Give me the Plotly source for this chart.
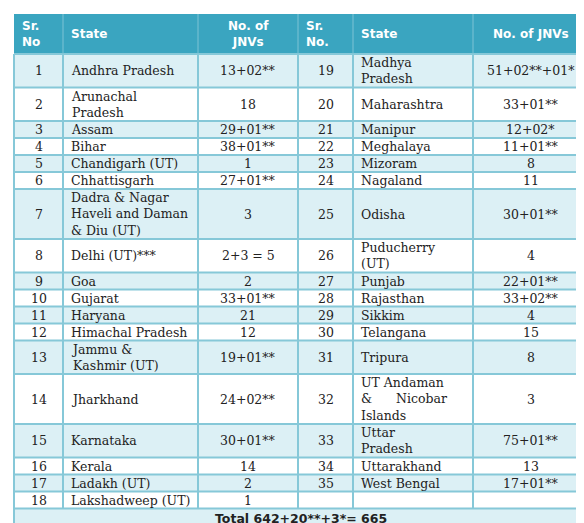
import plotly.graph_objects as go

sr1 = [str(i) for i in range(1, 19)]
state1 = ["Andhra Pradesh", "Arunachal<br>Pradesh", "Assam", "Bihar", "Chandigarh (UT)", "Chhattisgarh",
          "Dadra & Nagar<br>Haveli and Daman<br>& Diu (UT)", "Delhi (UT)***", "Goa", "Gujarat", "Haryana",
          "Himachal Pradesh", "Jammu &<br>Kashmir (UT)", "Jharkhand", "Karnataka", "Kerala", "Ladakh (UT)",
          "Lakshadweep (UT)"]
jnv1 = ["13+02**", "18", "29+01**", "38+01**", "1", "27+01**", "3", "2+3 = 5", "2", "33+01**", "21", "12",
        "19+01**", "24+02**", "30+01**", "14", "2", "1"]
sr2 = [str(i) for i in range(19, 36)] + [""]
state2 = ["Madhya<br>Pradesh", "Maharashtra", "Manipur", "Meghalaya", "Mizoram", "Nagaland", "Odisha",
          "Puducherry<br>(UT)", "Punjab", "Rajasthan", "Sikkim", "Telangana", "Tripura",
          "UT Andaman<br>&&nbsp;&nbsp;&nbsp;&nbsp;&nbsp;&nbsp;Nicobar<br>Islands", "Uttar<br>Pradesh",
          "Uttarakhand", "West Bengal", ""]
jnv2 = ["51+02**+01*", "33+01**", "12+02*", "11+01**", "8", "11", "30+01**", "4", "22+01**", "33+02**", "4",
        "15", "8", "3", "75+01**", "13", "17+01**", ""]
headers = ["Sr.<br>No", "State", "No. of<br>JNVs", "Sr.<br>No.", "State", "No. of JNVs"]
total_text = "Total 642+20**+3*= 665"

LB = "#dcf0f5"
LINE = "#86c8d8"
HDR = "#3aa5c0"
edges = [6, 55, 190, 290, 345, 465, 580]
aligns = ["center", "left", "center", "center", "left", "center"]
haligns = ["left", "left", "center", "left", "left", "center"]
cols = [sr1, state1, jnv1, sr2, state2, jnv2]

shapes, annots = [], []

def cell_text(text, c, y0, y1, al, font):
    if al == "left":
        x, xa = edges[c] + 6, "left"
    else:
        x, xa = (edges[c] + edges[c + 1]) / 2, "center"
    annots.append(dict(x=x, y=(y0 + y1) / 2, text=text, xanchor=xa, yanchor="middle", showarrow=False,
                       align=al, font=font, xref="x", yref="y"))

# header
y0, y1 = 6, 46
shapes.append(dict(type="rect", x0=edges[0], x1=edges[-1], y0=y0, y1=y1, fillcolor=HDR, line_width=0, layer="below"))
hfont = dict(family="DejaVu Sans", size=12, color="white")
for c, h in enumerate(headers):
    cell_text(f"<b>{h}</b>", c, y0, y1, haligns[c], hfont)

bfont = dict(family="DejaVu Serif", size=12.5, color="#222")
y = y1
row_bounds = [y]
for r in range(len(sr1)):
    nlines = max(col[r].count("<br>") + 1 for col in cols)
    h = 16.5 * nlines + 0.5
    fill = LB if r % 2 == 0 else "white"
    shapes.append(dict(type="rect", x0=edges[0], x1=edges[-1], y0=y, y1=y + h, fillcolor=fill, line_width=0, layer="below"))
    for c in range(6):
        cell_text(cols[c][r], c, y, y + h, aligns[c], bfont)
    y += h
    row_bounds.append(y)

# total row
ty0, ty1 = y, y + 20
shapes.append(dict(type="rect", x0=edges[0], x1=edges[-1], y0=ty0, y1=ty1, fillcolor=LB, line_width=0, layer="below"))
annots.append(dict(x=(edges[0] + edges[-1]) / 2, y=(ty0 + ty1) / 2, text=f"<b>{total_text}</b>", showarrow=False,
                   font=dict(family="DejaVu Sans", size=12.5, color="#222"), xref="x", yref="y"))

# grid lines
for yb in row_bounds + [ty1]:
    shapes.append(dict(type="line", x0=edges[0], x1=edges[-1], y0=yb, y1=yb, line=dict(color=LINE, width=2)))
for e in edges:
    yend = ty1 if e in (edges[0], edges[-1]) else ty0
    shapes.append(dict(type="line", x0=e, x1=e, y0=row_bounds[0], y1=yend, line=dict(color=LINE, width=2)))
    if e not in (edges[0], edges[-1]):
        shapes.append(dict(type="line", x0=e, x1=e, y0=6, y1=46, line=dict(color="#7cc3d5", width=1)))

fig = go.Figure()
fig.update_layout(width=584, height=523, margin=dict(l=0, r=0, t=0, b=0), paper_bgcolor="white",
                  plot_bgcolor="white", shapes=shapes, annotations=annots,
                  xaxis=dict(range=[0, 584], visible=False, fixedrange=True),
                  yaxis=dict(range=[523, 0], visible=False, fixedrange=True), showlegend=False)
fig.write_html("out.html")
